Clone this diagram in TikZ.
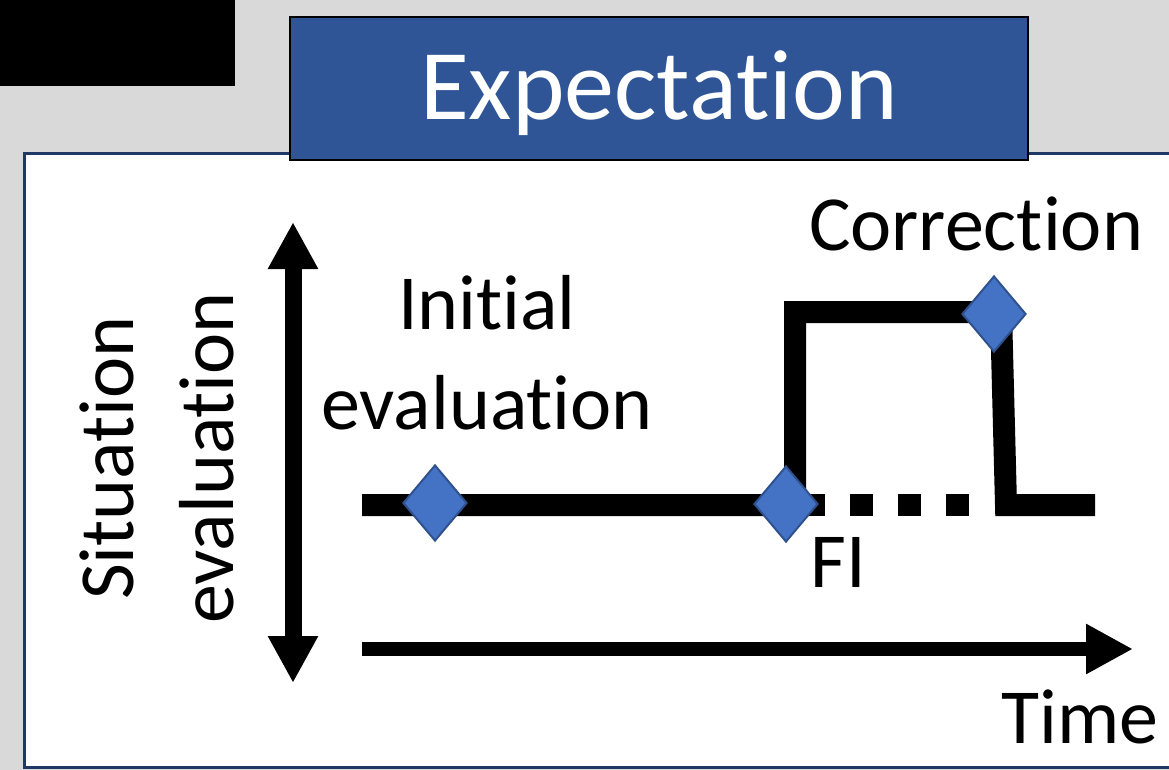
\documentclass[tikz,border=0pt]{standalone}
\usepackage{fontspec}
\setmainfont{Carlito}[Ligatures={NoCommon}]
\usetikzlibrary{shapes.geometric,arrows.meta}
\definecolor{bggrey}{HTML}{D9D9D9}
\definecolor{titleblue}{HTML}{2F5597}
\definecolor{diafill}{HTML}{4472C4}
\definecolor{diadraw}{HTML}{2F528F}
\definecolor{panelnavy}{HTML}{1F3864}
\tikzset{
  bigtxt/.style={inner sep=0pt, font=\fontsize{78}{100}\selectfont, align=center},
  marker/.style={diamond, fill=diafill, draw=diadraw, line width=2pt, inner sep=0pt,
                 minimum width=64pt, minimum height=76pt},
  curve/.style={line width=22pt, line join=miter, line cap=butt},
  bigtip/.tip={Triangle[length=47pt,width=47pt]},
}
\begin{document}
\begin{tikzpicture}[x=1pt,y=-1pt]
\useasboundingbox (0,0) rectangle (1169,770);
\fill[bggrey] (0,0) rectangle (1169,770);
% black box top-left
\fill[black] (-5,-5) rectangle (235,86);
% panel
\draw[panelnavy, fill=white, line width=3pt] (24,154) rectangle (1185,767);
% title box
\node[draw=black, fill=titleblue, line width=2.5pt, minimum width=738pt, minimum height=143pt,
      inner sep=0pt] (title) at (659,88.5) {};
\node[text=white, inner sep=0pt, font=\fontsize{100}{120}\selectfont, anchor=base] (titletxt) at (659,120) {Expectation};
% axes
\coordinate (vtop) at (293,222);
\coordinate (vbot) at (293,683);
\draw[line width=17pt, {bigtip}-{bigtip}] (vbot) -- (vtop);
\coordinate (tstart) at (362,649);
\coordinate (tend) at (1133,649);
\draw[line width=14pt, -{bigtip}] (tstart) -- (tend);
% curve
\coordinate (c0) at (362,505);
\coordinate (c1) at (795,505);
\coordinate (c2) at (795,312);
\coordinate (c3) at (1001,312);
\coordinate (c4) at (1006,505);
\coordinate (c5) at (1095,505);
\draw[curve] (c0) -- (c1) -- (c2) -- (c3) -- (c4) -- (c5);
\coordinate (d0) at (802,505);
\coordinate (d1) at (970,505);
\draw[line width=22pt, dash pattern=on 23pt off 25pt] (d0) -- (d1);
% markers
\node[marker] (m1) at (435,503) {};
\node[marker] (m2) at (786,504) {};
\node[marker] (m3) at (994,314) {};
% labels
\node[bigtxt, rotate=90] (ylabel) at (157,458) {Situation\\evaluation};
\node[bigtxt] (initial) at (487,353) {Initial\\evaluation};
\node[bigtxt, anchor=base] (corr) at (976,250) {Correction};
\node[bigtxt, anchor=base] (fi) at (838,587) {FI};
\node[bigtxt, anchor=base] (time) at (1080,743) {Time};
\end{tikzpicture}
\end{document}
